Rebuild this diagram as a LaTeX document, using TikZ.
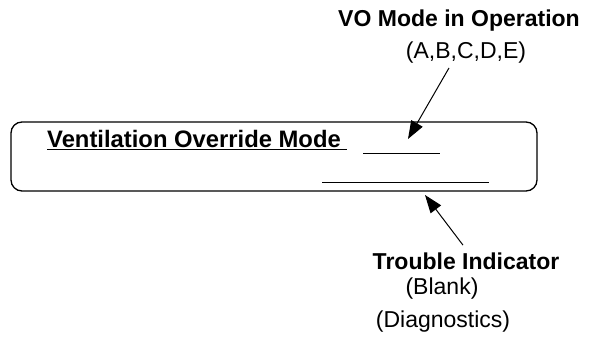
\documentclass[tikz,border=0pt]{standalone}
\usepackage{fontspec}
\setmainfont{Liberation Sans}
\usetikzlibrary{arrows.meta,calc}
\begin{document}
\begin{tikzpicture}[x=1pt,y=-1pt,
  lab/.style={inner sep=0pt,anchor=base,font=\fontsize{23}{27}\selectfont},
  blab/.style={lab,font=\fontsize{23}{27}\selectfont\bfseries},
  ptr/.style={-{Triangle[length=18pt,width=13pt]},line width=1pt}]
\useasboundingbox (0,0) rectangle (590,339);
% display panel
\draw[line width=1.3pt,rounded corners=11pt] (11,122) rectangle (537,191);
\node[blab,anchor=base west,font=\fontsize{23.8}{27}\selectfont\bfseries] (vent) at (47,148) {\underline{Ventilation Override Mode\ }};
\draw[line width=1pt] (363,154) -- (440,154);
\draw[line width=1pt] (322,183) -- (489,183);
% mode call-out
\node[blab] (vomode) at (459,27) {VO Mode in Operation};
\node[lab] (vocodes) at (466,59) {(A,B,C,D,E)};
\coordinate (votip) at (408,139);
\draw[ptr] ($(vocodes.south)+(-17,4)$) -- (votip);
% trouble call-out
\node[blab] (trouble) at (466,270) {Trouble Indicator};
\node[lab] (blank) at (442,295) {(Blank)};
\node[lab] (diag) at (443,328) {(Diagnostics)};
\coordinate (trtip) at (425,195);
\draw[ptr] ($(trouble.north)+(-3,-8)$) -- (trtip);
\end{tikzpicture}
\end{document}
